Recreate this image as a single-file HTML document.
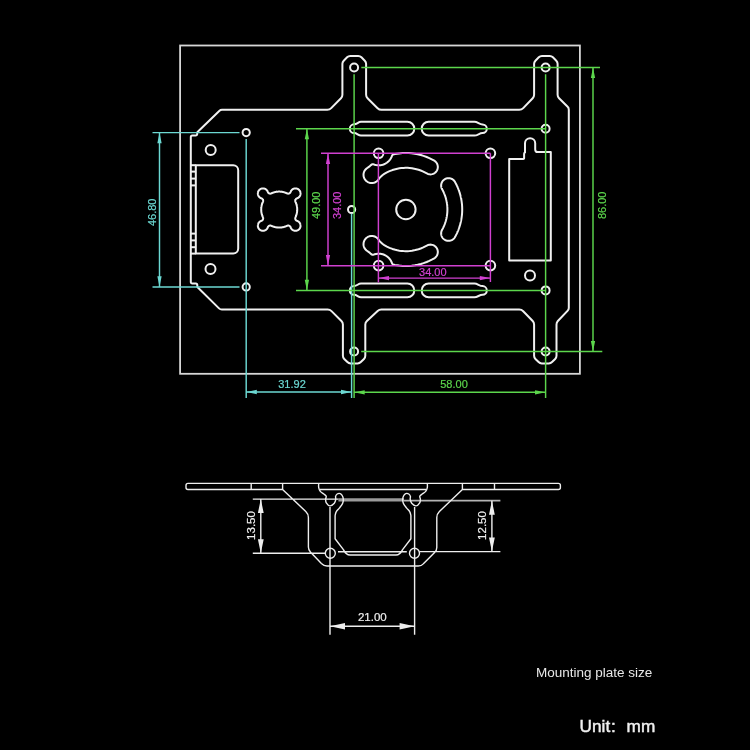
<!DOCTYPE html>
<html><head><meta charset="utf-8"><style>
html,body{margin:0;padding:0;background:#000;width:750px;height:750px;overflow:hidden}
svg{display:block;will-change:transform;filter:blur(0.3px)}
text{font-family:"Liberation Sans",sans-serif}
.dt{stroke-width:0.2}
</style></head><body>
<svg width="750" height="750" viewBox="0 0 750 750">
<rect width="750" height="750" fill="#000"/>
<g fill="none" stroke="#d6d6d6" stroke-width="1.8"><rect x="180.1" y="45.5" width="399.8" height="328.3"/></g>

<g fill="none" stroke="#f0f0f0" stroke-width="2" stroke-linejoin="round">
<path d="M219.24,110.92A4,4 0 0 1 222.02,109.8L327.3,109.8A5.5,5.5 0 0 0 331.22,108.16L340.96,98.26A5,5 0 0 0 342.4,94.75L342.4,63.86A4.5,4.5 0 0 1 343.72,60.68L347.08,57.32A4.5,4.5 0 0 1 350.26,56L358.24,56A4.5,4.5 0 0 1 361.42,57.32L364.78,60.68A4.5,4.5 0 0 1 366.1,63.86L366.1,94.72A5,5 0 0 0 367.58,98.27L377.59,108.2A5.5,5.5 0 0 0 381.47,109.8L519.26,109.8A5.5,5.5 0 0 0 523.22,108.11L532.7,98.25A5,5 0 0 0 534.1,94.79L534.1,63.86A4.5,4.5 0 0 1 535.42,60.68L538.78,57.32A4.5,4.5 0 0 1 541.96,56L549.74,56A4.5,4.5 0 0 1 552.92,57.32L556.28,60.68A4.5,4.5 0 0 1 557.6,63.86L557.6,94.73A5,5 0 0 0 559.06,98.26L567.63,106.83A4,4 0 0 1 568.8,109.66L568.8,307.91A4,4 0 0 1 567.71,310.66L557.87,321.05A5,5 0 0 0 556.5,324.49L556.5,355.74A4.5,4.5 0 0 1 555.18,358.92L552.02,362.08A4.5,4.5 0 0 1 548.84,363.4L541.76,363.4A4.5,4.5 0 0 1 538.58,362.08L535.42,358.92A4.5,4.5 0 0 1 534.1,355.74L534.1,324.51A5,5 0 0 0 532.7,321.05L523.22,311.19A5.5,5.5 0 0 0 519.26,309.5L381.36,309.5A5.5,5.5 0 0 0 377.62,310.97L366.9,320.92A5,5 0 0 0 365.3,324.58L365.3,355.74A4.5,4.5 0 0 1 363.98,358.92L360.82,362.08A4.5,4.5 0 0 1 357.64,363.4L350.56,363.4A4.5,4.5 0 0 1 347.38,362.08L344.22,358.92A4.5,4.5 0 0 1 342.9,355.74L342.9,324.48A5,5 0 0 0 341.42,320.93L331.51,311.1A5.5,5.5 0 0 0 327.63,309.5L221.84,309.5A4,4 0 0 1 219.03,308.35L197.6,287.29A1,1 0 0 1 197.3,286.58L197.3,285.1A1.5,1.5 0 0 0 195.8,283.6L192.3,283.6A1.5,1.5 0 0 1 190.8,282.1L190.8,137.1A1.5,1.5 0 0 1 192.3,135.6L195.7,135.6A1.5,1.5 0 0 0 197.2,134.1L197.2,132.62A1,1 0 0 1 197.51,131.91Z"/><path d="M195.8,165.2L233.2,165.2A5,5 0 0 1 238.2,170.2L238.2,248.6A5,5 0 0 1 233.2,253.6L195.8,253.6Z"/><path d="M190.8,165.2H195.8"/><path d="M190.8,171.6H195.8"/><path d="M190.8,178.6H195.8"/><path d="M190.8,185.4H195.8"/><path d="M190.8,233.6H195.8"/><path d="M190.8,240.4H195.8"/><path d="M190.8,247.2H195.8"/><path d="M190.8,253.6H195.8"/><circle cx="246.2" cy="132.6" r="3.6"/><circle cx="246.2" cy="286.9" r="3.6"/><circle cx="210.7" cy="150" r="5"/><circle cx="210.5" cy="269.1" r="5"/><circle cx="354.1" cy="67.5" r="4"/><circle cx="545.6" cy="67.5" r="4"/><circle cx="354.1" cy="351.5" r="4"/><circle cx="545.6" cy="351.5" r="4"/><circle cx="545.6" cy="128.7" r="4"/><circle cx="545.6" cy="290.4" r="4"/><circle cx="351.6" cy="209.5" r="3.6"/><circle cx="378.6" cy="153.3" r="4.8"/><circle cx="490.4" cy="153.3" r="4.8"/><circle cx="378.6" cy="265.6" r="4.8"/><circle cx="490.4" cy="265.6" r="4.8"/><circle cx="530" cy="275.6" r="5"/><circle cx="405.9" cy="209.5" r="9.7"/><path d="M261.38,198.35 L261.44,198.37 L261.5,198.4 L261.56,198.42 L261.62,198.44 L261.68,198.47 L261.73,198.5 L261.79,198.53 L261.84,198.56 L261.9,198.59 L261.95,198.62 L262.01,198.66 L262.06,198.69 L262.11,198.73 L262.16,198.77 L262.21,198.81 L262.26,198.85 L262.31,198.89 L262.35,198.94 L262.4,198.98 L262.44,199.02 L262.49,199.07 L262.53,199.12 L262.57,199.17 L262.61,199.22 L262.65,199.27 L262.69,199.32 L262.72,199.37 L262.76,199.42 L262.79,199.48 L262.82,199.53 L262.85,199.59 L262.88,199.65 L262.91,199.7 L262.94,199.76 L262.96,199.82 L262.99,199.88 L263.01,199.94 L263.03,200 L263.05,200.06 L263.07,200.12 L263.08,200.18 L263.1,200.24 L263.11,200.3 L263.12,200.37 L263.13,200.43 L263.14,200.49 L263.15,200.56 L263.16,200.62 L263.16,200.68 L263.16,200.75 L263.16,200.81 L263.16,200.87 L263.16,200.94 L263.16,201 L263.15,201.06 L263.15,201.13 L263.14,201.19 L263.13,201.25 L263.12,201.31 L263.1,201.38 L263.09,201.44 L263.07,201.5 L263.06,201.56 L263.04,201.62 L263.02,201.68 L263,201.74 L262.97,201.8 L262.95,201.86 L262.92,201.92 L262.84,202.1 L262.83,202.11 L262.75,202.3 L262.74,202.31 L262.66,202.5 L262.65,202.52 L262.57,202.7 L262.57,202.72 L262.49,202.91 L262.48,202.92 L262.41,203.11 L262.4,203.13 L262.33,203.32 L262.33,203.34 L262.25,203.53 L262.25,203.54 L262.18,203.74 L262.18,203.75 L262.11,203.95 L262.11,203.96 L262.04,204.16 L262.04,204.17 L261.98,204.37 L261.97,204.38 L261.91,204.58 L261.91,204.59 L261.85,204.79 L261.85,204.81 L261.8,205 L261.79,205.02 L261.74,205.22 L261.74,205.23 L261.69,205.43 L261.69,205.45 L261.64,205.65 L261.64,205.66 L261.59,205.86 L261.59,205.88 L261.55,206.08 L261.54,206.1 L261.51,206.3 L261.5,206.31 L261.47,206.51 L261.46,206.53 L261.43,206.73 L261.43,206.75 L261.4,206.95 L261.39,206.97 L261.36,207.17 L261.36,207.19 L261.34,207.39 L261.33,207.4 L261.31,207.61 L261.31,207.62 L261.29,207.83 L261.29,207.84 L261.27,208.05 L261.27,208.06 L261.25,208.27 L261.25,208.28 L261.23,208.49 L261.23,208.5 L261.22,208.71 L261.22,208.72 L261.21,208.93 L261.21,208.95 L261.21,209.15 L261.21,209.17 L261.2,209.37 L261.2,209.39 L261.2,209.59 L261.2,209.61 L261.2,209.81 L261.2,209.83 L261.21,210.03 L261.21,210.05 L261.21,210.25 L261.21,210.27 L261.22,210.48 L261.22,210.49 L261.23,210.7 L261.23,210.71 L261.25,210.92 L261.25,210.93 L261.27,211.14 L261.27,211.15 L261.29,211.36 L261.29,211.37 L261.31,211.58 L261.31,211.59 L261.33,211.8 L261.34,211.81 L261.36,212.01 L261.36,212.03 L261.39,212.23 L261.4,212.25 L261.43,212.45 L261.43,212.47 L261.46,212.67 L261.47,212.69 L261.5,212.89 L261.51,212.9 L261.54,213.1 L261.55,213.12 L261.59,213.32 L261.59,213.34 L261.64,213.54 L261.64,213.55 L261.69,213.75 L261.69,213.77 L261.74,213.97 L261.74,213.98 L261.79,214.18 L261.8,214.2 L261.85,214.39 L261.85,214.41 L261.91,214.61 L261.91,214.62 L261.97,214.82 L261.98,214.83 L262.04,215.03 L262.04,215.04 L262.11,215.24 L262.11,215.25 L262.18,215.45 L262.18,215.46 L262.25,215.66 L262.25,215.67 L262.33,215.86 L262.33,215.88 L262.4,216.07 L262.41,216.09 L262.48,216.28 L262.49,216.29 L262.57,216.48 L262.57,216.5 L262.65,216.68 L262.66,216.7 L262.74,216.89 L262.75,216.9 L262.83,217.09 L262.84,217.1 L262.92,217.28 L262.95,217.34 L262.97,217.4 L263,217.46 L263.02,217.52 L263.04,217.58 L263.06,217.64 L263.07,217.7 L263.09,217.76 L263.1,217.82 L263.12,217.89 L263.13,217.95 L263.14,218.01 L263.15,218.07 L263.15,218.14 L263.16,218.2 L263.16,218.26 L263.16,218.33 L263.16,218.39 L263.16,218.45 L263.16,218.52 L263.16,218.58 L263.15,218.64 L263.14,218.71 L263.13,218.77 L263.12,218.83 L263.11,218.9 L263.1,218.96 L263.08,219.02 L263.07,219.08 L263.05,219.14 L263.03,219.2 L263.01,219.26 L262.99,219.32 L262.96,219.38 L262.94,219.44 L262.91,219.5 L262.88,219.55 L262.85,219.61 L262.82,219.67 L262.79,219.72 L262.76,219.78 L262.72,219.83 L262.69,219.88 L262.65,219.93 L262.61,219.98 L262.57,220.03 L262.53,220.08 L262.49,220.13 L262.44,220.18 L262.4,220.22 L262.35,220.26 L262.31,220.31 L262.26,220.35 L262.21,220.39 L262.16,220.43 L262.11,220.47 L262.06,220.51 L262.01,220.54 L261.95,220.58 L261.9,220.61 L261.84,220.64 L261.79,220.67 L261.73,220.7 L261.68,220.73 L261.62,220.76 L261.56,220.78 L261.5,220.8 L261.44,220.83 L261.38,220.85 L261.34,220.86 L261.25,220.89 L261.22,220.9 L261.13,220.94 L261.1,220.95 L261.01,220.98 L260.98,220.99 L260.9,221.03 L260.87,221.04 L260.78,221.08 L260.76,221.1 L260.67,221.14 L260.64,221.15 L260.56,221.19 L260.53,221.21 L260.45,221.25 L260.42,221.27 L260.34,221.32 L260.31,221.33 L260.24,221.38 L260.21,221.4 L260.13,221.45 L260.1,221.47 L260.03,221.52 L260,221.54 L259.92,221.59 L259.9,221.61 L259.83,221.67 L259.8,221.69 L259.73,221.75 L259.7,221.77 L259.63,221.83 L259.61,221.85 L259.54,221.91 L259.51,221.93 L259.45,222 L259.42,222.02 L259.36,222.08 L259.33,222.11 L259.27,222.17 L259.25,222.2 L259.18,222.26 L259.16,222.29 L259.1,222.36 L259.08,222.38 L259.02,222.45 L259,222.48 L258.94,222.55 L258.92,222.58 L258.86,222.65 L258.84,222.67 L258.79,222.75 L258.77,222.78 L258.72,222.85 L258.7,222.88 L258.65,222.96 L258.63,222.99 L258.58,223.06 L258.57,223.09 L258.52,223.17 L258.5,223.2 L258.46,223.28 L258.44,223.31 L258.4,223.39 L258.39,223.42 L258.35,223.51 L258.33,223.53 L258.29,223.62 L258.28,223.65 L258.24,223.73 L258.23,223.76 L258.2,223.85 L258.19,223.88 L258.15,223.97 L258.14,224 L258.11,224.09 L258.1,224.12 L258.07,224.2 L258.07,224.23 L258.04,224.32 L258.03,224.36 L258.01,224.45 L258,224.48 L257.98,224.57 L257.97,224.6 L257.95,224.69 L257.95,224.72 L257.93,224.81 L257.92,224.84 L257.91,224.94 L257.9,224.97 L257.89,225.06 L257.89,225.09 L257.88,225.18 L257.87,225.22 L257.87,225.31 L257.86,225.34 L257.86,225.43 L257.86,225.47 L257.85,225.56 L257.85,225.59 L257.85,225.68 L257.85,225.72 L257.85,225.81 L257.85,225.84 L257.86,225.93 L257.86,225.97 L257.86,226.06 L257.87,226.09 L257.87,226.18 L257.88,226.22 L257.89,226.31 L257.89,226.34 L257.9,226.43 L257.91,226.46 L257.92,226.56 L257.93,226.59 L257.95,226.68 L257.95,226.71 L257.97,226.8 L257.98,226.83 L258,226.92 L258.01,226.95 L258.03,227.04 L258.04,227.08 L258.07,227.17 L258.07,227.2 L258.1,227.28 L258.11,227.31 L258.14,227.4 L258.15,227.43 L258.19,227.52 L258.2,227.55 L258.23,227.64 L258.24,227.67 L258.28,227.75 L258.29,227.78 L258.33,227.87 L258.35,227.89 L258.39,227.98 L258.4,228.01 L258.44,228.09 L258.46,228.12 L258.5,228.2 L258.52,228.23 L258.57,228.31 L258.58,228.34 L258.63,228.41 L258.65,228.44 L258.7,228.52 L258.72,228.55 L258.77,228.62 L258.79,228.65 L258.84,228.73 L258.86,228.75 L258.92,228.82 L258.94,228.85 L259,228.92 L259.02,228.95 L259.08,229.02 L259.1,229.04 L259.16,229.11 L259.18,229.14 L259.25,229.2 L259.27,229.23 L259.33,229.29 L259.36,229.32 L259.42,229.38 L259.45,229.4 L259.51,229.47 L259.54,229.49 L259.61,229.55 L259.63,229.57 L259.7,229.63 L259.73,229.65 L259.8,229.71 L259.83,229.73 L259.9,229.79 L259.92,229.81 L260,229.86 L260.03,229.88 L260.1,229.93 L260.13,229.95 L260.21,230 L260.24,230.02 L260.31,230.07 L260.34,230.08 L260.42,230.13 L260.45,230.15 L260.53,230.19 L260.56,230.21 L260.64,230.25 L260.67,230.26 L260.76,230.3 L260.78,230.32 L260.87,230.36 L260.9,230.37 L260.98,230.41 L261.01,230.42 L261.1,230.45 L261.13,230.46 L261.22,230.5 L261.25,230.51 L261.34,230.54 L261.37,230.55 L261.45,230.58 L261.48,230.58 L261.57,230.61 L261.61,230.62 L261.7,230.64 L261.73,230.65 L261.82,230.67 L261.85,230.68 L261.94,230.7 L261.97,230.7 L262.06,230.72 L262.09,230.73 L262.19,230.74 L262.22,230.75 L262.31,230.76 L262.34,230.76 L262.43,230.77 L262.47,230.78 L262.56,230.78 L262.59,230.79 L262.68,230.79 L262.72,230.79 L262.81,230.8 L262.84,230.8 L262.93,230.8 L262.97,230.8 L263.06,230.8 L263.09,230.8 L263.18,230.79 L263.22,230.79 L263.31,230.79 L263.34,230.78 L263.43,230.78 L263.47,230.77 L263.56,230.76 L263.59,230.76 L263.68,230.75 L263.71,230.74 L263.81,230.73 L263.84,230.72 L263.93,230.7 L263.96,230.7 L264.05,230.68 L264.08,230.67 L264.17,230.65 L264.2,230.64 L264.29,230.62 L264.33,230.61 L264.42,230.58 L264.45,230.58 L264.53,230.55 L264.56,230.54 L264.65,230.51 L264.68,230.5 L264.77,230.46 L264.8,230.45 L264.89,230.42 L264.92,230.41 L265,230.37 L265.03,230.36 L265.12,230.32 L265.14,230.3 L265.23,230.26 L265.26,230.25 L265.34,230.21 L265.37,230.19 L265.45,230.15 L265.48,230.13 L265.56,230.08 L265.59,230.07 L265.66,230.02 L265.69,230 L265.77,229.95 L265.8,229.93 L265.87,229.88 L265.9,229.86 L265.98,229.81 L266,229.79 L266.07,229.73 L266.1,229.71 L266.17,229.65 L266.2,229.63 L266.27,229.57 L266.29,229.55 L266.36,229.49 L266.39,229.47 L266.45,229.4 L266.48,229.38 L266.54,229.32 L266.57,229.29 L266.63,229.23 L266.65,229.2 L266.72,229.14 L266.74,229.11 L266.8,229.04 L266.82,229.02 L266.88,228.95 L266.9,228.92 L266.96,228.85 L266.98,228.82 L267.04,228.75 L267.06,228.73 L267.11,228.65 L267.13,228.62 L267.18,228.55 L267.2,228.52 L267.25,228.44 L267.27,228.41 L267.32,228.34 L267.33,228.31 L267.38,228.23 L267.4,228.2 L267.44,228.12 L267.46,228.09 L267.5,228.01 L267.51,227.98 L267.55,227.89 L267.57,227.87 L267.61,227.78 L267.62,227.75 L267.66,227.67 L267.67,227.64 L267.7,227.55 L267.71,227.52 L267.75,227.43 L267.76,227.4 L267.79,227.31 L267.81,227.25 L267.83,227.19 L267.86,227.13 L267.88,227.07 L267.91,227.01 L267.94,226.96 L267.97,226.9 L268,226.85 L268.03,226.79 L268.07,226.74 L268.1,226.68 L268.14,226.63 L268.18,226.58 L268.22,226.53 L268.26,226.48 L268.3,226.43 L268.34,226.39 L268.38,226.34 L268.43,226.3 L268.48,226.25 L268.52,226.21 L268.57,226.17 L268.62,226.13 L268.67,226.09 L268.72,226.05 L268.77,226.01 L268.83,225.98 L268.88,225.94 L268.93,225.91 L268.99,225.88 L269.04,225.85 L269.1,225.82 L269.16,225.79 L269.22,225.77 L269.28,225.74 L269.33,225.72 L269.39,225.7 L269.45,225.68 L269.52,225.66 L269.58,225.64 L269.64,225.63 L269.7,225.61 L269.76,225.6 L269.83,225.59 L269.89,225.58 L269.95,225.57 L270.01,225.56 L270.08,225.56 L270.14,225.56 L270.21,225.55 L270.27,225.55 L270.33,225.55 L270.4,225.56 L270.46,225.56 L270.52,225.57 L270.59,225.58 L270.65,225.58 L270.71,225.59 L270.77,225.61 L270.84,225.62 L270.9,225.64 L270.96,225.65 L271.02,225.67 L271.08,225.69 L271.14,225.71 L271.2,225.73 L271.26,225.76 L271.32,225.78 L271.37,225.81 L271.5,225.87 L271.51,225.88 L271.7,225.96 L271.71,225.97 L271.9,226.05 L271.91,226.06 L272.1,226.14 L272.12,226.15 L272.3,226.23 L272.32,226.23 L272.51,226.31 L272.52,226.32 L272.71,226.39 L272.73,226.4 L272.92,226.47 L272.94,226.47 L273.13,226.55 L273.14,226.55 L273.34,226.62 L273.35,226.62 L273.55,226.69 L273.56,226.69 L273.76,226.76 L273.77,226.76 L273.97,226.82 L273.98,226.83 L274.18,226.89 L274.19,226.89 L274.39,226.95 L274.41,226.95 L274.6,227 L274.62,227.01 L274.82,227.06 L274.83,227.06 L275.03,227.11 L275.05,227.11 L275.25,227.16 L275.26,227.16 L275.46,227.21 L275.48,227.21 L275.68,227.25 L275.7,227.26 L275.9,227.29 L275.91,227.3 L276.11,227.33 L276.13,227.34 L276.33,227.37 L276.35,227.37 L276.55,227.4 L276.57,227.41 L276.77,227.44 L276.79,227.44 L276.99,227.46 L277,227.47 L277.21,227.49 L277.22,227.49 L277.43,227.51 L277.44,227.51 L277.65,227.53 L277.66,227.53 L277.87,227.55 L277.88,227.55 L278.09,227.57 L278.1,227.57 L278.31,227.58 L278.32,227.58 L278.53,227.59 L278.55,227.59 L278.75,227.59 L278.77,227.59 L278.97,227.6 L278.99,227.6 L279.19,227.6 L279.21,227.6 L279.41,227.6 L279.43,227.6 L279.63,227.59 L279.65,227.59 L279.85,227.59 L279.87,227.59 L280.08,227.58 L280.09,227.58 L280.3,227.57 L280.31,227.57 L280.52,227.55 L280.53,227.55 L280.74,227.53 L280.75,227.53 L280.96,227.51 L280.97,227.51 L281.18,227.49 L281.19,227.49 L281.4,227.47 L281.41,227.46 L281.61,227.44 L281.63,227.44 L281.83,227.41 L281.85,227.4 L282.05,227.37 L282.07,227.37 L282.27,227.34 L282.29,227.33 L282.49,227.3 L282.5,227.29 L282.7,227.26 L282.72,227.25 L282.92,227.21 L282.94,227.21 L283.14,227.16 L283.15,227.16 L283.35,227.11 L283.37,227.11 L283.57,227.06 L283.58,227.06 L283.78,227.01 L283.8,227 L283.99,226.95 L284.01,226.95 L284.21,226.89 L284.22,226.89 L284.42,226.83 L284.43,226.82 L284.63,226.76 L284.64,226.76 L284.84,226.69 L284.85,226.69 L285.05,226.62 L285.06,226.62 L285.26,226.55 L285.27,226.55 L285.46,226.47 L285.48,226.47 L285.67,226.4 L285.69,226.39 L285.88,226.32 L285.89,226.31 L286.08,226.23 L286.1,226.23 L286.28,226.15 L286.3,226.14 L286.49,226.06 L286.5,226.05 L286.69,225.97 L286.7,225.96 L286.89,225.88 L286.9,225.87 L287.03,225.81 L287.08,225.78 L287.14,225.76 L287.2,225.73 L287.26,225.71 L287.32,225.69 L287.38,225.67 L287.44,225.65 L287.5,225.64 L287.56,225.62 L287.63,225.61 L287.69,225.59 L287.75,225.58 L287.81,225.58 L287.88,225.57 L287.94,225.56 L288,225.56 L288.07,225.55 L288.13,225.55 L288.19,225.55 L288.26,225.56 L288.32,225.56 L288.39,225.56 L288.45,225.57 L288.51,225.58 L288.57,225.59 L288.64,225.6 L288.7,225.61 L288.76,225.63 L288.82,225.64 L288.88,225.66 L288.95,225.68 L289.01,225.7 L289.07,225.72 L289.12,225.74 L289.18,225.77 L289.24,225.79 L289.3,225.82 L289.36,225.85 L289.41,225.88 L289.47,225.91 L289.52,225.94 L289.57,225.98 L289.63,226.01 L289.68,226.05 L289.73,226.09 L289.78,226.13 L289.83,226.17 L289.88,226.21 L289.92,226.25 L289.97,226.3 L290.02,226.34 L290.06,226.39 L290.1,226.43 L290.14,226.48 L290.18,226.53 L290.22,226.58 L290.26,226.63 L290.3,226.68 L290.33,226.74 L290.37,226.79 L290.4,226.85 L290.43,226.9 L290.46,226.96 L290.49,227.01 L290.52,227.07 L290.54,227.13 L290.57,227.19 L290.59,227.25 L290.61,227.31 L290.64,227.4 L290.65,227.43 L290.69,227.52 L290.7,227.55 L290.73,227.64 L290.74,227.67 L290.78,227.75 L290.79,227.78 L290.83,227.87 L290.85,227.89 L290.89,227.98 L290.9,228.01 L290.94,228.09 L290.96,228.12 L291,228.2 L291.02,228.23 L291.07,228.31 L291.08,228.34 L291.13,228.41 L291.15,228.44 L291.2,228.52 L291.22,228.55 L291.27,228.62 L291.29,228.65 L291.34,228.73 L291.36,228.75 L291.42,228.82 L291.44,228.85 L291.5,228.92 L291.52,228.95 L291.58,229.02 L291.6,229.04 L291.66,229.11 L291.68,229.14 L291.75,229.2 L291.77,229.23 L291.83,229.29 L291.86,229.32 L291.92,229.38 L291.95,229.4 L292.01,229.47 L292.04,229.49 L292.11,229.55 L292.13,229.57 L292.2,229.63 L292.23,229.65 L292.3,229.71 L292.33,229.73 L292.4,229.79 L292.42,229.81 L292.5,229.86 L292.53,229.88 L292.6,229.93 L292.63,229.95 L292.71,230 L292.74,230.02 L292.81,230.07 L292.84,230.08 L292.92,230.13 L292.95,230.15 L293.03,230.19 L293.06,230.21 L293.14,230.25 L293.17,230.26 L293.26,230.3 L293.28,230.32 L293.37,230.36 L293.4,230.37 L293.48,230.41 L293.51,230.42 L293.6,230.45 L293.63,230.46 L293.72,230.5 L293.75,230.51 L293.84,230.54 L293.87,230.55 L293.95,230.58 L293.98,230.58 L294.07,230.61 L294.11,230.62 L294.2,230.64 L294.23,230.65 L294.32,230.67 L294.35,230.68 L294.44,230.7 L294.47,230.7 L294.56,230.72 L294.59,230.73 L294.69,230.74 L294.72,230.75 L294.81,230.76 L294.84,230.76 L294.93,230.77 L294.97,230.78 L295.06,230.78 L295.09,230.79 L295.18,230.79 L295.22,230.79 L295.31,230.8 L295.34,230.8 L295.43,230.8 L295.47,230.8 L295.56,230.8 L295.59,230.8 L295.68,230.79 L295.72,230.79 L295.81,230.79 L295.84,230.78 L295.93,230.78 L295.97,230.77 L296.06,230.76 L296.09,230.76 L296.18,230.75 L296.21,230.74 L296.31,230.73 L296.34,230.72 L296.43,230.7 L296.46,230.7 L296.55,230.68 L296.58,230.67 L296.67,230.65 L296.7,230.64 L296.79,230.62 L296.83,230.61 L296.92,230.58 L296.95,230.58 L297.03,230.55 L297.06,230.54 L297.15,230.51 L297.18,230.5 L297.27,230.46 L297.3,230.45 L297.39,230.42 L297.42,230.41 L297.5,230.37 L297.53,230.36 L297.62,230.32 L297.64,230.3 L297.73,230.26 L297.76,230.25 L297.84,230.21 L297.87,230.19 L297.95,230.15 L297.98,230.13 L298.06,230.08 L298.09,230.07 L298.16,230.02 L298.19,230 L298.27,229.95 L298.3,229.93 L298.37,229.88 L298.4,229.86 L298.48,229.81 L298.5,229.79 L298.57,229.73 L298.6,229.71 L298.67,229.65 L298.7,229.63 L298.77,229.57 L298.79,229.55 L298.86,229.49 L298.89,229.47 L298.95,229.4 L298.98,229.38 L299.04,229.32 L299.07,229.29 L299.13,229.23 L299.15,229.2 L299.22,229.14 L299.24,229.11 L299.3,229.04 L299.32,229.02 L299.38,228.95 L299.4,228.92 L299.46,228.85 L299.48,228.82 L299.54,228.75 L299.56,228.73 L299.61,228.65 L299.63,228.62 L299.68,228.55 L299.7,228.52 L299.75,228.44 L299.77,228.41 L299.82,228.34 L299.83,228.31 L299.88,228.23 L299.9,228.2 L299.94,228.12 L299.96,228.09 L300,228.01 L300.01,227.98 L300.05,227.89 L300.07,227.87 L300.11,227.78 L300.12,227.75 L300.16,227.67 L300.17,227.64 L300.2,227.55 L300.21,227.52 L300.25,227.43 L300.26,227.4 L300.29,227.31 L300.3,227.28 L300.33,227.2 L300.33,227.17 L300.36,227.08 L300.37,227.04 L300.39,226.95 L300.4,226.92 L300.42,226.83 L300.43,226.8 L300.45,226.71 L300.45,226.68 L300.47,226.59 L300.48,226.56 L300.49,226.46 L300.5,226.43 L300.51,226.34 L300.51,226.31 L300.52,226.22 L300.53,226.18 L300.53,226.09 L300.54,226.06 L300.54,225.97 L300.54,225.93 L300.55,225.84 L300.55,225.81 L300.55,225.72 L300.55,225.68 L300.55,225.59 L300.55,225.56 L300.54,225.47 L300.54,225.43 L300.54,225.34 L300.53,225.31 L300.53,225.22 L300.52,225.18 L300.51,225.09 L300.51,225.06 L300.5,224.97 L300.49,224.94 L300.48,224.84 L300.47,224.81 L300.45,224.72 L300.45,224.69 L300.43,224.6 L300.42,224.57 L300.4,224.48 L300.39,224.45 L300.37,224.36 L300.36,224.32 L300.33,224.23 L300.33,224.2 L300.3,224.12 L300.29,224.09 L300.26,224 L300.25,223.97 L300.21,223.88 L300.2,223.85 L300.17,223.76 L300.16,223.73 L300.12,223.65 L300.11,223.62 L300.07,223.53 L300.05,223.51 L300.01,223.42 L300,223.39 L299.96,223.31 L299.94,223.28 L299.9,223.2 L299.88,223.17 L299.83,223.09 L299.82,223.06 L299.77,222.99 L299.75,222.96 L299.7,222.88 L299.68,222.85 L299.63,222.78 L299.61,222.75 L299.56,222.67 L299.54,222.65 L299.48,222.58 L299.46,222.55 L299.4,222.48 L299.38,222.45 L299.32,222.38 L299.3,222.36 L299.24,222.29 L299.22,222.26 L299.15,222.2 L299.13,222.17 L299.07,222.11 L299.04,222.08 L298.98,222.02 L298.95,222 L298.89,221.93 L298.86,221.91 L298.79,221.85 L298.77,221.83 L298.7,221.77 L298.67,221.75 L298.6,221.69 L298.57,221.67 L298.5,221.61 L298.48,221.59 L298.4,221.54 L298.37,221.52 L298.3,221.47 L298.27,221.45 L298.19,221.4 L298.16,221.38 L298.09,221.33 L298.06,221.32 L297.98,221.27 L297.95,221.25 L297.87,221.21 L297.84,221.19 L297.76,221.15 L297.73,221.14 L297.64,221.1 L297.62,221.08 L297.53,221.04 L297.5,221.03 L297.42,220.99 L297.39,220.98 L297.3,220.95 L297.27,220.94 L297.18,220.9 L297.15,220.89 L297.06,220.86 L297.02,220.85 L296.96,220.83 L296.9,220.8 L296.84,220.78 L296.78,220.76 L296.72,220.73 L296.67,220.7 L296.61,220.67 L296.56,220.64 L296.5,220.61 L296.45,220.58 L296.39,220.54 L296.34,220.51 L296.29,220.47 L296.24,220.43 L296.19,220.39 L296.14,220.35 L296.09,220.31 L296.05,220.26 L296,220.22 L295.96,220.18 L295.91,220.13 L295.87,220.08 L295.83,220.03 L295.79,219.98 L295.75,219.93 L295.71,219.88 L295.68,219.83 L295.64,219.78 L295.61,219.72 L295.58,219.67 L295.55,219.61 L295.52,219.55 L295.49,219.5 L295.46,219.44 L295.44,219.38 L295.41,219.32 L295.39,219.26 L295.37,219.2 L295.35,219.14 L295.33,219.08 L295.32,219.02 L295.3,218.96 L295.29,218.9 L295.28,218.83 L295.27,218.77 L295.26,218.71 L295.25,218.64 L295.24,218.58 L295.24,218.52 L295.24,218.45 L295.24,218.39 L295.24,218.33 L295.24,218.26 L295.24,218.2 L295.25,218.14 L295.25,218.07 L295.26,218.01 L295.27,217.95 L295.28,217.89 L295.3,217.82 L295.31,217.76 L295.33,217.7 L295.34,217.64 L295.36,217.58 L295.38,217.52 L295.4,217.46 L295.43,217.4 L295.45,217.34 L295.48,217.28 L295.56,217.1 L295.57,217.09 L295.65,216.9 L295.66,216.89 L295.74,216.7 L295.75,216.68 L295.83,216.5 L295.83,216.48 L295.91,216.29 L295.92,216.28 L295.99,216.09 L296,216.07 L296.07,215.88 L296.07,215.86 L296.15,215.67 L296.15,215.66 L296.22,215.46 L296.22,215.45 L296.29,215.25 L296.29,215.24 L296.36,215.04 L296.36,215.03 L296.42,214.83 L296.43,214.82 L296.49,214.62 L296.49,214.61 L296.55,214.41 L296.55,214.39 L296.6,214.2 L296.61,214.18 L296.66,213.98 L296.66,213.97 L296.71,213.77 L296.71,213.75 L296.76,213.55 L296.76,213.54 L296.81,213.34 L296.81,213.32 L296.85,213.12 L296.86,213.1 L296.89,212.9 L296.9,212.89 L296.93,212.69 L296.94,212.67 L296.97,212.47 L296.97,212.45 L297,212.25 L297.01,212.23 L297.04,212.03 L297.04,212.01 L297.06,211.81 L297.07,211.8 L297.09,211.59 L297.09,211.58 L297.11,211.37 L297.11,211.36 L297.13,211.15 L297.13,211.14 L297.15,210.93 L297.15,210.92 L297.17,210.71 L297.17,210.7 L297.18,210.49 L297.18,210.48 L297.19,210.27 L297.19,210.25 L297.19,210.05 L297.19,210.03 L297.2,209.83 L297.2,209.81 L297.2,209.61 L297.2,209.59 L297.2,209.39 L297.2,209.37 L297.19,209.17 L297.19,209.15 L297.19,208.95 L297.19,208.93 L297.18,208.72 L297.18,208.71 L297.17,208.5 L297.17,208.49 L297.15,208.28 L297.15,208.27 L297.13,208.06 L297.13,208.05 L297.11,207.84 L297.11,207.83 L297.09,207.62 L297.09,207.61 L297.07,207.4 L297.06,207.39 L297.04,207.19 L297.04,207.17 L297.01,206.97 L297,206.95 L296.97,206.75 L296.97,206.73 L296.94,206.53 L296.93,206.51 L296.9,206.31 L296.89,206.3 L296.86,206.1 L296.85,206.08 L296.81,205.88 L296.81,205.86 L296.76,205.66 L296.76,205.65 L296.71,205.45 L296.71,205.43 L296.66,205.23 L296.66,205.22 L296.61,205.02 L296.6,205 L296.55,204.81 L296.55,204.79 L296.49,204.59 L296.49,204.58 L296.43,204.38 L296.42,204.37 L296.36,204.17 L296.36,204.16 L296.29,203.96 L296.29,203.95 L296.22,203.75 L296.22,203.74 L296.15,203.54 L296.15,203.53 L296.07,203.34 L296.07,203.32 L296,203.13 L295.99,203.11 L295.92,202.92 L295.91,202.91 L295.83,202.72 L295.83,202.7 L295.75,202.52 L295.74,202.5 L295.66,202.31 L295.65,202.3 L295.57,202.11 L295.56,202.1 L295.48,201.92 L295.45,201.86 L295.43,201.8 L295.4,201.74 L295.38,201.68 L295.36,201.62 L295.34,201.56 L295.33,201.5 L295.31,201.44 L295.3,201.38 L295.28,201.31 L295.27,201.25 L295.26,201.19 L295.25,201.13 L295.25,201.06 L295.24,201 L295.24,200.94 L295.24,200.87 L295.24,200.81 L295.24,200.75 L295.24,200.68 L295.24,200.62 L295.25,200.56 L295.26,200.49 L295.27,200.43 L295.28,200.37 L295.29,200.3 L295.3,200.24 L295.32,200.18 L295.33,200.12 L295.35,200.06 L295.37,200 L295.39,199.94 L295.41,199.88 L295.44,199.82 L295.46,199.76 L295.49,199.7 L295.52,199.65 L295.55,199.59 L295.58,199.53 L295.61,199.48 L295.64,199.42 L295.68,199.37 L295.71,199.32 L295.75,199.27 L295.79,199.22 L295.83,199.17 L295.87,199.12 L295.91,199.07 L295.96,199.02 L296,198.98 L296.05,198.94 L296.09,198.89 L296.14,198.85 L296.19,198.81 L296.24,198.77 L296.29,198.73 L296.34,198.69 L296.39,198.66 L296.45,198.62 L296.5,198.59 L296.56,198.56 L296.61,198.53 L296.67,198.5 L296.72,198.47 L296.78,198.44 L296.84,198.42 L296.9,198.4 L296.96,198.37 L297.02,198.35 L297.06,198.34 L297.15,198.31 L297.18,198.3 L297.27,198.26 L297.3,198.25 L297.39,198.22 L297.42,198.21 L297.5,198.17 L297.53,198.16 L297.62,198.12 L297.64,198.1 L297.73,198.06 L297.76,198.05 L297.84,198.01 L297.87,197.99 L297.95,197.95 L297.98,197.93 L298.06,197.88 L298.09,197.87 L298.16,197.82 L298.19,197.8 L298.27,197.75 L298.3,197.73 L298.37,197.68 L298.4,197.66 L298.48,197.61 L298.5,197.59 L298.57,197.53 L298.6,197.51 L298.67,197.45 L298.7,197.43 L298.77,197.37 L298.79,197.35 L298.86,197.29 L298.89,197.27 L298.95,197.2 L298.98,197.18 L299.04,197.12 L299.07,197.09 L299.13,197.03 L299.15,197 L299.22,196.94 L299.24,196.91 L299.3,196.84 L299.32,196.82 L299.38,196.75 L299.4,196.72 L299.46,196.65 L299.48,196.62 L299.54,196.55 L299.56,196.53 L299.61,196.45 L299.63,196.42 L299.68,196.35 L299.7,196.32 L299.75,196.24 L299.77,196.21 L299.82,196.14 L299.83,196.11 L299.88,196.03 L299.9,196 L299.94,195.92 L299.96,195.89 L300,195.81 L300.01,195.78 L300.05,195.69 L300.07,195.67 L300.11,195.58 L300.12,195.55 L300.16,195.47 L300.17,195.44 L300.2,195.35 L300.21,195.32 L300.25,195.23 L300.26,195.2 L300.29,195.11 L300.3,195.08 L300.33,195 L300.33,194.97 L300.36,194.88 L300.37,194.84 L300.39,194.75 L300.4,194.72 L300.42,194.63 L300.43,194.6 L300.45,194.51 L300.45,194.48 L300.47,194.39 L300.48,194.36 L300.49,194.26 L300.5,194.23 L300.51,194.14 L300.51,194.11 L300.52,194.02 L300.53,193.98 L300.53,193.89 L300.54,193.86 L300.54,193.77 L300.54,193.73 L300.55,193.64 L300.55,193.61 L300.55,193.52 L300.55,193.48 L300.55,193.39 L300.55,193.36 L300.54,193.27 L300.54,193.23 L300.54,193.14 L300.53,193.11 L300.53,193.02 L300.52,192.98 L300.51,192.89 L300.51,192.86 L300.5,192.77 L300.49,192.74 L300.48,192.64 L300.47,192.61 L300.45,192.52 L300.45,192.49 L300.43,192.4 L300.42,192.37 L300.4,192.28 L300.39,192.25 L300.37,192.16 L300.36,192.12 L300.33,192.03 L300.33,192 L300.3,191.92 L300.29,191.89 L300.26,191.8 L300.25,191.77 L300.21,191.68 L300.2,191.65 L300.17,191.56 L300.16,191.53 L300.12,191.45 L300.11,191.42 L300.07,191.33 L300.05,191.31 L300.01,191.22 L300,191.19 L299.96,191.11 L299.94,191.08 L299.9,191 L299.88,190.97 L299.83,190.89 L299.82,190.86 L299.77,190.79 L299.75,190.76 L299.7,190.68 L299.68,190.65 L299.63,190.58 L299.61,190.55 L299.56,190.47 L299.54,190.45 L299.48,190.38 L299.46,190.35 L299.4,190.28 L299.38,190.25 L299.32,190.18 L299.3,190.16 L299.24,190.09 L299.22,190.06 L299.15,190 L299.13,189.97 L299.07,189.91 L299.04,189.88 L298.98,189.82 L298.95,189.8 L298.89,189.73 L298.86,189.71 L298.79,189.65 L298.77,189.63 L298.7,189.57 L298.67,189.55 L298.6,189.49 L298.57,189.47 L298.5,189.41 L298.48,189.39 L298.4,189.34 L298.37,189.32 L298.3,189.27 L298.27,189.25 L298.19,189.2 L298.16,189.18 L298.09,189.13 L298.06,189.12 L297.98,189.07 L297.95,189.05 L297.87,189.01 L297.84,188.99 L297.76,188.95 L297.73,188.94 L297.64,188.9 L297.62,188.88 L297.53,188.84 L297.5,188.83 L297.42,188.79 L297.39,188.78 L297.3,188.75 L297.27,188.74 L297.18,188.7 L297.15,188.69 L297.06,188.66 L297.03,188.65 L296.95,188.62 L296.92,188.62 L296.83,188.59 L296.79,188.58 L296.7,188.56 L296.67,188.55 L296.58,188.53 L296.55,188.52 L296.46,188.5 L296.43,188.5 L296.34,188.48 L296.31,188.47 L296.21,188.46 L296.18,188.45 L296.09,188.44 L296.06,188.44 L295.97,188.43 L295.93,188.42 L295.84,188.42 L295.81,188.41 L295.72,188.41 L295.68,188.41 L295.59,188.4 L295.56,188.4 L295.47,188.4 L295.43,188.4 L295.34,188.4 L295.31,188.4 L295.22,188.41 L295.18,188.41 L295.09,188.41 L295.06,188.42 L294.97,188.42 L294.93,188.43 L294.84,188.44 L294.81,188.44 L294.72,188.45 L294.69,188.46 L294.59,188.47 L294.56,188.48 L294.47,188.5 L294.44,188.5 L294.35,188.52 L294.32,188.53 L294.23,188.55 L294.2,188.56 L294.11,188.58 L294.07,188.59 L293.98,188.62 L293.95,188.62 L293.87,188.65 L293.84,188.66 L293.75,188.69 L293.72,188.7 L293.63,188.74 L293.6,188.75 L293.51,188.78 L293.48,188.79 L293.4,188.83 L293.37,188.84 L293.28,188.88 L293.26,188.9 L293.17,188.94 L293.14,188.95 L293.06,188.99 L293.03,189.01 L292.95,189.05 L292.92,189.07 L292.84,189.12 L292.81,189.13 L292.74,189.18 L292.71,189.2 L292.63,189.25 L292.6,189.27 L292.53,189.32 L292.5,189.34 L292.42,189.39 L292.4,189.41 L292.33,189.47 L292.3,189.49 L292.23,189.55 L292.2,189.57 L292.13,189.63 L292.11,189.65 L292.04,189.71 L292.01,189.73 L291.95,189.8 L291.92,189.82 L291.86,189.88 L291.83,189.91 L291.77,189.97 L291.75,190 L291.68,190.06 L291.66,190.09 L291.6,190.16 L291.58,190.18 L291.52,190.25 L291.5,190.28 L291.44,190.35 L291.42,190.38 L291.36,190.45 L291.34,190.47 L291.29,190.55 L291.27,190.58 L291.22,190.65 L291.2,190.68 L291.15,190.76 L291.13,190.79 L291.08,190.86 L291.07,190.89 L291.02,190.97 L291,191 L290.96,191.08 L290.94,191.11 L290.9,191.19 L290.89,191.22 L290.85,191.31 L290.83,191.33 L290.79,191.42 L290.78,191.45 L290.74,191.53 L290.73,191.56 L290.7,191.65 L290.69,191.68 L290.65,191.77 L290.64,191.8 L290.61,191.89 L290.59,191.95 L290.57,192.01 L290.54,192.07 L290.52,192.13 L290.49,192.19 L290.46,192.24 L290.43,192.3 L290.4,192.35 L290.37,192.41 L290.33,192.46 L290.3,192.52 L290.26,192.57 L290.22,192.62 L290.18,192.67 L290.14,192.72 L290.1,192.77 L290.06,192.81 L290.02,192.86 L289.97,192.9 L289.92,192.95 L289.88,192.99 L289.83,193.03 L289.78,193.07 L289.73,193.11 L289.68,193.15 L289.63,193.19 L289.57,193.22 L289.52,193.26 L289.47,193.29 L289.41,193.32 L289.36,193.35 L289.3,193.38 L289.24,193.41 L289.18,193.43 L289.12,193.46 L289.07,193.48 L289.01,193.5 L288.95,193.52 L288.88,193.54 L288.82,193.56 L288.76,193.57 L288.7,193.59 L288.64,193.6 L288.57,193.61 L288.51,193.62 L288.45,193.63 L288.39,193.64 L288.32,193.64 L288.26,193.64 L288.19,193.65 L288.13,193.65 L288.07,193.65 L288,193.64 L287.94,193.64 L287.88,193.63 L287.81,193.62 L287.75,193.62 L287.69,193.61 L287.63,193.59 L287.56,193.58 L287.5,193.56 L287.44,193.55 L287.38,193.53 L287.32,193.51 L287.26,193.49 L287.2,193.47 L287.14,193.44 L287.08,193.42 L287.03,193.39 L286.9,193.33 L286.89,193.32 L286.7,193.24 L286.69,193.23 L286.5,193.15 L286.49,193.14 L286.3,193.06 L286.28,193.05 L286.1,192.97 L286.08,192.97 L285.89,192.89 L285.88,192.88 L285.69,192.81 L285.67,192.8 L285.48,192.73 L285.46,192.73 L285.27,192.65 L285.26,192.65 L285.06,192.58 L285.05,192.58 L284.85,192.51 L284.84,192.51 L284.64,192.44 L284.63,192.44 L284.43,192.38 L284.42,192.37 L284.22,192.31 L284.21,192.31 L284.01,192.25 L283.99,192.25 L283.8,192.2 L283.78,192.19 L283.58,192.14 L283.57,192.14 L283.37,192.09 L283.35,192.09 L283.15,192.04 L283.14,192.04 L282.94,191.99 L282.92,191.99 L282.72,191.95 L282.7,191.94 L282.5,191.91 L282.49,191.9 L282.29,191.87 L282.27,191.86 L282.07,191.83 L282.05,191.83 L281.85,191.8 L281.83,191.79 L281.63,191.76 L281.61,191.76 L281.41,191.74 L281.4,191.73 L281.19,191.71 L281.18,191.71 L280.97,191.69 L280.96,191.69 L280.75,191.67 L280.74,191.67 L280.53,191.65 L280.52,191.65 L280.31,191.63 L280.3,191.63 L280.09,191.62 L280.08,191.62 L279.87,191.61 L279.85,191.61 L279.65,191.61 L279.63,191.61 L279.43,191.6 L279.41,191.6 L279.21,191.6 L279.19,191.6 L278.99,191.6 L278.97,191.6 L278.77,191.61 L278.75,191.61 L278.55,191.61 L278.53,191.61 L278.32,191.62 L278.31,191.62 L278.1,191.63 L278.09,191.63 L277.88,191.65 L277.87,191.65 L277.66,191.67 L277.65,191.67 L277.44,191.69 L277.43,191.69 L277.22,191.71 L277.21,191.71 L277,191.73 L276.99,191.74 L276.79,191.76 L276.77,191.76 L276.57,191.79 L276.55,191.8 L276.35,191.83 L276.33,191.83 L276.13,191.86 L276.11,191.87 L275.91,191.9 L275.9,191.91 L275.7,191.94 L275.68,191.95 L275.48,191.99 L275.46,191.99 L275.26,192.04 L275.25,192.04 L275.05,192.09 L275.03,192.09 L274.83,192.14 L274.82,192.14 L274.62,192.19 L274.6,192.2 L274.41,192.25 L274.39,192.25 L274.19,192.31 L274.18,192.31 L273.98,192.37 L273.97,192.38 L273.77,192.44 L273.76,192.44 L273.56,192.51 L273.55,192.51 L273.35,192.58 L273.34,192.58 L273.14,192.65 L273.13,192.65 L272.94,192.73 L272.92,192.73 L272.73,192.8 L272.71,192.81 L272.52,192.88 L272.51,192.89 L272.32,192.97 L272.3,192.97 L272.12,193.05 L272.1,193.06 L271.91,193.14 L271.9,193.15 L271.71,193.23 L271.7,193.24 L271.51,193.32 L271.5,193.33 L271.37,193.39 L271.32,193.42 L271.26,193.44 L271.2,193.47 L271.14,193.49 L271.08,193.51 L271.02,193.53 L270.96,193.55 L270.9,193.56 L270.84,193.58 L270.77,193.59 L270.71,193.61 L270.65,193.62 L270.59,193.62 L270.52,193.63 L270.46,193.64 L270.4,193.64 L270.33,193.65 L270.27,193.65 L270.21,193.65 L270.14,193.64 L270.08,193.64 L270.01,193.64 L269.95,193.63 L269.89,193.62 L269.83,193.61 L269.76,193.6 L269.7,193.59 L269.64,193.57 L269.58,193.56 L269.52,193.54 L269.45,193.52 L269.39,193.5 L269.33,193.48 L269.28,193.46 L269.22,193.43 L269.16,193.41 L269.1,193.38 L269.04,193.35 L268.99,193.32 L268.93,193.29 L268.88,193.26 L268.83,193.22 L268.77,193.19 L268.72,193.15 L268.67,193.11 L268.62,193.07 L268.57,193.03 L268.52,192.99 L268.48,192.95 L268.43,192.9 L268.38,192.86 L268.34,192.81 L268.3,192.77 L268.26,192.72 L268.22,192.67 L268.18,192.62 L268.14,192.57 L268.1,192.52 L268.07,192.46 L268.03,192.41 L268,192.35 L267.97,192.3 L267.94,192.24 L267.91,192.19 L267.88,192.13 L267.86,192.07 L267.83,192.01 L267.81,191.95 L267.79,191.89 L267.76,191.8 L267.75,191.77 L267.71,191.68 L267.7,191.65 L267.67,191.56 L267.66,191.53 L267.62,191.45 L267.61,191.42 L267.57,191.33 L267.55,191.31 L267.51,191.22 L267.5,191.19 L267.46,191.11 L267.44,191.08 L267.4,191 L267.38,190.97 L267.33,190.89 L267.32,190.86 L267.27,190.79 L267.25,190.76 L267.2,190.68 L267.18,190.65 L267.13,190.58 L267.11,190.55 L267.06,190.47 L267.04,190.45 L266.98,190.38 L266.96,190.35 L266.9,190.28 L266.88,190.25 L266.82,190.18 L266.8,190.16 L266.74,190.09 L266.72,190.06 L266.65,190 L266.63,189.97 L266.57,189.91 L266.54,189.88 L266.48,189.82 L266.45,189.8 L266.39,189.73 L266.36,189.71 L266.29,189.65 L266.27,189.63 L266.2,189.57 L266.17,189.55 L266.1,189.49 L266.07,189.47 L266,189.41 L265.98,189.39 L265.9,189.34 L265.87,189.32 L265.8,189.27 L265.77,189.25 L265.69,189.2 L265.66,189.18 L265.59,189.13 L265.56,189.12 L265.48,189.07 L265.45,189.05 L265.37,189.01 L265.34,188.99 L265.26,188.95 L265.23,188.94 L265.14,188.9 L265.12,188.88 L265.03,188.84 L265,188.83 L264.92,188.79 L264.89,188.78 L264.8,188.75 L264.77,188.74 L264.68,188.7 L264.65,188.69 L264.56,188.66 L264.53,188.65 L264.45,188.62 L264.42,188.62 L264.33,188.59 L264.29,188.58 L264.2,188.56 L264.17,188.55 L264.08,188.53 L264.05,188.52 L263.96,188.5 L263.93,188.5 L263.84,188.48 L263.81,188.47 L263.71,188.46 L263.68,188.45 L263.59,188.44 L263.56,188.44 L263.47,188.43 L263.43,188.42 L263.34,188.42 L263.31,188.41 L263.22,188.41 L263.18,188.41 L263.09,188.4 L263.06,188.4 L262.97,188.4 L262.93,188.4 L262.84,188.4 L262.81,188.4 L262.72,188.41 L262.68,188.41 L262.59,188.41 L262.56,188.42 L262.47,188.42 L262.43,188.43 L262.34,188.44 L262.31,188.44 L262.22,188.45 L262.19,188.46 L262.09,188.47 L262.06,188.48 L261.97,188.5 L261.94,188.5 L261.85,188.52 L261.82,188.53 L261.73,188.55 L261.7,188.56 L261.61,188.58 L261.57,188.59 L261.48,188.62 L261.45,188.62 L261.37,188.65 L261.34,188.66 L261.25,188.69 L261.22,188.7 L261.13,188.74 L261.1,188.75 L261.01,188.78 L260.98,188.79 L260.9,188.83 L260.87,188.84 L260.78,188.88 L260.76,188.9 L260.67,188.94 L260.64,188.95 L260.56,188.99 L260.53,189.01 L260.45,189.05 L260.42,189.07 L260.34,189.12 L260.31,189.13 L260.24,189.18 L260.21,189.2 L260.13,189.25 L260.1,189.27 L260.03,189.32 L260,189.34 L259.92,189.39 L259.9,189.41 L259.83,189.47 L259.8,189.49 L259.73,189.55 L259.7,189.57 L259.63,189.63 L259.61,189.65 L259.54,189.71 L259.51,189.73 L259.45,189.8 L259.42,189.82 L259.36,189.88 L259.33,189.91 L259.27,189.97 L259.25,190 L259.18,190.06 L259.16,190.09 L259.1,190.16 L259.08,190.18 L259.02,190.25 L259,190.28 L258.94,190.35 L258.92,190.38 L258.86,190.45 L258.84,190.47 L258.79,190.55 L258.77,190.58 L258.72,190.65 L258.7,190.68 L258.65,190.76 L258.63,190.79 L258.58,190.86 L258.57,190.89 L258.52,190.97 L258.5,191 L258.46,191.08 L258.44,191.11 L258.4,191.19 L258.39,191.22 L258.35,191.31 L258.33,191.33 L258.29,191.42 L258.28,191.45 L258.24,191.53 L258.23,191.56 L258.2,191.65 L258.19,191.68 L258.15,191.77 L258.14,191.8 L258.11,191.89 L258.1,191.92 L258.07,192 L258.07,192.03 L258.04,192.12 L258.03,192.16 L258.01,192.25 L258,192.28 L257.98,192.37 L257.97,192.4 L257.95,192.49 L257.95,192.52 L257.93,192.61 L257.92,192.64 L257.91,192.74 L257.9,192.77 L257.89,192.86 L257.89,192.89 L257.88,192.98 L257.87,193.02 L257.87,193.11 L257.86,193.14 L257.86,193.23 L257.86,193.27 L257.85,193.36 L257.85,193.39 L257.85,193.48 L257.85,193.52 L257.85,193.61 L257.85,193.64 L257.86,193.73 L257.86,193.77 L257.86,193.86 L257.87,193.89 L257.87,193.98 L257.88,194.02 L257.89,194.11 L257.89,194.14 L257.9,194.23 L257.91,194.26 L257.92,194.36 L257.93,194.39 L257.95,194.48 L257.95,194.51 L257.97,194.6 L257.98,194.63 L258,194.72 L258.01,194.75 L258.03,194.84 L258.04,194.88 L258.07,194.97 L258.07,195 L258.1,195.08 L258.11,195.11 L258.14,195.2 L258.15,195.23 L258.19,195.32 L258.2,195.35 L258.23,195.44 L258.24,195.47 L258.28,195.55 L258.29,195.58 L258.33,195.67 L258.35,195.69 L258.39,195.78 L258.4,195.81 L258.44,195.89 L258.46,195.92 L258.5,196 L258.52,196.03 L258.57,196.11 L258.58,196.14 L258.63,196.21 L258.65,196.24 L258.7,196.32 L258.72,196.35 L258.77,196.42 L258.79,196.45 L258.84,196.53 L258.86,196.55 L258.92,196.62 L258.94,196.65 L259,196.72 L259.02,196.75 L259.08,196.82 L259.1,196.84 L259.16,196.91 L259.18,196.94 L259.25,197 L259.27,197.03 L259.33,197.09 L259.36,197.12 L259.42,197.18 L259.45,197.2 L259.51,197.27 L259.54,197.29 L259.61,197.35 L259.63,197.37 L259.7,197.43 L259.73,197.45 L259.8,197.51 L259.83,197.53 L259.9,197.59 L259.92,197.61 L260,197.66 L260.03,197.68 L260.1,197.73 L260.13,197.75 L260.21,197.8 L260.24,197.82 L260.31,197.87 L260.34,197.88 L260.42,197.93 L260.45,197.95 L260.53,197.99 L260.56,198.01 L260.64,198.05 L260.67,198.06 L260.76,198.1 L260.78,198.12 L260.87,198.16 L260.9,198.17 L260.98,198.21 L261.01,198.22 L261.1,198.25 L261.13,198.26 L261.22,198.3 L261.25,198.31 L261.34,198.34Z"/><path d="M361,121.8H407.4A6.9,6.9 0 0 1 407.4,135.6H361C358,135.6 357.2,133.1 354.2,133.1A4.4,4.4 0 0 1 354.2,124.3C357.2,124.3 358,121.8 361,121.8Z"/><path d="M474.5,121.8H428.6A6.9,6.9 0 0 0 428.6,135.6H474.5C477.5,135.6 479.5,133 482.5,133A4.3,4.3 0 0 0 482.5,124.4C479.5,124.4 477.5,121.8 474.5,121.8Z"/><path d="M361,283.5H407.4A6.9,6.9 0 0 1 407.4,297.3H361C358,297.3 357.2,294.8 354.2,294.8A4.4,4.4 0 0 1 354.2,286C357.2,286 358,283.5 361,283.5Z"/><path d="M474.5,283.5H428.6A6.9,6.9 0 0 0 428.6,297.3H474.5C477.5,297.3 479.5,294.7 482.5,294.7A4.3,4.3 0 0 0 482.5,286.1C479.5,286.1 477.5,283.5 474.5,283.5Z"/><path d="M455.22,236.66 L455.25,236.61 L455.44,236.24 L455.47,236.18 L455.67,235.82 L455.7,235.76 L455.89,235.39 L455.92,235.33 L456.11,234.96 L456.14,234.91 L456.33,234.53 L456.36,234.48 L456.54,234.1 L456.57,234.05 L456.75,233.67 L456.77,233.61 L456.95,233.24 L456.98,233.18 L457.15,232.8 L457.18,232.74 L457.35,232.36 L457.37,232.31 L457.54,231.92 L457.57,231.87 L457.73,231.48 L457.76,231.43 L457.92,231.04 L457.94,230.98 L458.1,230.6 L458.12,230.54 L458.28,230.15 L458.3,230.09 L458.45,229.7 L458.47,229.65 L458.62,229.26 L458.64,229.2 L458.79,228.81 L458.81,228.75 L458.95,228.35 L458.97,228.29 L459.11,227.9 L459.13,227.84 L459.26,227.45 L459.28,227.39 L459.41,226.99 L459.43,226.93 L459.56,226.53 L459.58,226.47 L459.7,226.08 L459.72,226.02 L459.84,225.62 L459.86,225.56 L459.98,225.16 L460,225.1 L460.11,224.7 L460.13,224.64 L460.24,224.23 L460.25,224.17 L460.36,223.77 L460.38,223.71 L460.48,223.3 L460.5,223.24 L460.6,222.84 L460.61,222.78 L460.71,222.37 L460.72,222.31 L460.82,221.9 L460.83,221.84 L460.92,221.44 L460.93,221.37 L461.02,220.97 L461.03,220.91 L461.12,220.5 L461.13,220.43 L461.21,220.03 L461.22,219.96 L461.29,219.55 L461.31,219.49 L461.38,219.08 L461.39,219.02 L461.46,218.61 L461.47,218.55 L461.53,218.13 L461.54,218.07 L461.61,217.66 L461.61,217.6 L461.67,217.19 L461.68,217.12 L461.74,216.71 L461.74,216.65 L461.8,216.23 L461.8,216.17 L461.85,215.76 L461.86,215.69 L461.9,215.28 L461.91,215.22 L461.95,214.8 L461.96,214.74 L461.99,214.32 L462,214.26 L462.03,213.85 L462.04,213.78 L462.07,213.37 L462.07,213.3 L462.1,212.89 L462.1,212.83 L462.12,212.41 L462.13,212.35 L462.15,211.93 L462.15,211.87 L462.17,211.45 L462.17,211.39 L462.18,210.97 L462.18,210.91 L462.19,210.49 L462.19,210.43 L462.2,210.01 L462.2,209.95 L462.2,209.53 L462.2,209.47 L462.2,209.05 L462.2,208.99 L462.19,208.57 L462.19,208.51 L462.18,208.09 L462.18,208.03 L462.17,207.61 L462.17,207.55 L462.15,207.13 L462.15,207.07 L462.13,206.65 L462.12,206.59 L462.1,206.17 L462.1,206.11 L462.07,205.7 L462.07,205.63 L462.04,205.22 L462.03,205.15 L462,204.74 L461.99,204.68 L461.96,204.26 L461.95,204.2 L461.91,203.78 L461.9,203.72 L461.86,203.31 L461.85,203.24 L461.8,202.83 L461.8,202.77 L461.74,202.35 L461.74,202.29 L461.68,201.88 L461.67,201.81 L461.61,201.4 L461.61,201.34 L461.54,200.93 L461.53,200.87 L461.47,200.45 L461.46,200.39 L461.39,199.98 L461.38,199.92 L461.31,199.51 L461.29,199.45 L461.22,199.04 L461.21,198.97 L461.13,198.57 L461.12,198.5 L461.03,198.09 L461.02,198.03 L460.93,197.63 L460.92,197.56 L460.83,197.16 L460.82,197.1 L460.72,196.69 L460.71,196.63 L460.61,196.22 L460.6,196.16 L460.5,195.76 L460.48,195.7 L460.38,195.29 L460.36,195.23 L460.25,194.83 L460.24,194.77 L460.13,194.36 L460.11,194.3 L460,193.9 L459.98,193.84 L459.86,193.44 L459.84,193.38 L459.72,192.98 L459.7,192.92 L459.58,192.53 L459.56,192.47 L459.43,192.07 L459.41,192.01 L459.28,191.61 L459.26,191.55 L459.13,191.16 L459.11,191.1 L458.97,190.71 L458.95,190.65 L458.81,190.25 L458.79,190.19 L458.64,189.8 L458.62,189.74 L458.47,189.35 L458.45,189.3 L458.3,188.91 L458.28,188.85 L458.12,188.46 L458.1,188.4 L457.94,188.02 L457.92,187.96 L457.76,187.57 L457.73,187.52 L457.57,187.13 L457.54,187.08 L457.37,186.69 L457.35,186.64 L457.18,186.26 L457.15,186.2 L456.98,185.82 L456.95,185.76 L456.77,185.39 L456.75,185.33 L456.57,184.95 L456.54,184.9 L456.36,184.52 L456.33,184.47 L456.14,184.09 L456.11,184.04 L455.92,183.67 L455.89,183.61 L455.7,183.24 L455.67,183.18 L455.47,182.82 L455.44,182.76 L455.25,182.39 L455.22,182.34 L455.01,181.98 L454.83,181.66 L454.63,181.36 L454.42,181.07 L454.19,180.78 L453.95,180.51 L453.69,180.25 L453.42,180.01 L453.15,179.77 L452.86,179.55 L452.55,179.35 L452.24,179.16 L451.93,178.99 L451.6,178.83 L451.26,178.69 L450.92,178.56 L450.58,178.45 L450.23,178.36 L449.87,178.29 L449.51,178.23 L449.15,178.19 L448.79,178.17 L448.42,178.17 L448.06,178.18 L447.7,178.22 L447.34,178.27 L446.98,178.34 L446.63,178.42 L446.28,178.52 L445.94,178.64 L445.6,178.78 L445.27,178.93 L444.95,179.1 L444.64,179.28 L444.33,179.48 L444.04,179.7 L443.76,179.93 L443.49,180.17 L443.23,180.42 L442.98,180.69 L442.75,180.97 L442.53,181.26 L442.33,181.56 L442.14,181.87 L441.96,182.19 L441.8,182.51 L441.66,182.85 L441.54,183.19 L441.43,183.54 L441.34,183.89 L441.26,184.24 L441.21,184.6 L441.17,184.96 L441.15,185.33 L441.15,185.69 L441.16,186.05 L441.19,186.41 L441.24,186.77 L441.31,187.13 L441.4,187.48 L441.5,187.83 L441.62,188.18 L441.75,188.51 L441.91,188.84 L442.08,189.16 L442.26,189.5 L442.43,189.81 L442.6,190.12 L442.76,190.44 L442.92,190.75 L443.08,191.07 L443.24,191.38 L443.39,191.7 L443.54,192.02 L443.69,192.35 L443.83,192.67 L443.98,192.99 L444.11,193.32 L444.25,193.64 L444.38,193.97 L444.52,194.3 L444.64,194.63 L444.77,194.96 L444.89,195.29 L445.01,195.62 L445.13,195.96 L445.24,196.29 L445.35,196.63 L445.46,196.97 L445.57,197.3 L445.67,197.64 L445.77,197.98 L445.87,198.32 L445.96,198.66 L446.05,199 L446.14,199.35 L446.22,199.69 L446.31,200.03 L446.39,200.38 L446.46,200.72 L446.53,201.07 L446.61,201.42 L446.67,201.76 L446.74,202.11 L446.8,202.46 L446.86,202.81 L446.91,203.16 L446.97,203.51 L447.01,203.86 L447.06,204.21 L447.1,204.56 L447.15,204.91 L447.18,205.26 L447.22,205.61 L447.25,205.97 L447.28,206.32 L447.3,206.67 L447.33,207.03 L447.35,207.38 L447.36,207.73 L447.38,208.09 L447.39,208.44 L447.39,208.79 L447.4,209.15 L447.4,209.5 L447.4,209.85 L447.39,210.21 L447.39,210.56 L447.38,210.91 L447.36,211.27 L447.35,211.62 L447.33,211.97 L447.3,212.33 L447.28,212.68 L447.25,213.03 L447.22,213.39 L447.18,213.74 L447.15,214.09 L447.1,214.44 L447.06,214.79 L447.01,215.14 L446.97,215.49 L446.91,215.84 L446.86,216.19 L446.8,216.54 L446.74,216.89 L446.67,217.24 L446.61,217.58 L446.53,217.93 L446.46,218.28 L446.39,218.62 L446.31,218.97 L446.22,219.31 L446.14,219.65 L446.05,220 L445.96,220.34 L445.87,220.68 L445.77,221.02 L445.67,221.36 L445.57,221.7 L445.46,222.03 L445.35,222.37 L445.24,222.71 L445.13,223.04 L445.01,223.38 L444.89,223.71 L444.77,224.04 L444.64,224.37 L444.52,224.7 L444.38,225.03 L444.25,225.36 L444.11,225.68 L443.98,226.01 L443.83,226.33 L443.69,226.65 L443.54,226.98 L443.39,227.3 L443.24,227.62 L443.08,227.93 L442.92,228.25 L442.76,228.56 L442.6,228.88 L442.43,229.19 L442.26,229.5 L442.08,229.84 L441.91,230.16 L441.75,230.49 L441.62,230.82 L441.5,231.17 L441.4,231.52 L441.31,231.87 L441.24,232.23 L441.19,232.59 L441.16,232.95 L441.15,233.31 L441.15,233.67 L441.17,234.04 L441.21,234.4 L441.26,234.76 L441.34,235.11 L441.43,235.46 L441.54,235.81 L441.66,236.15 L441.8,236.49 L441.96,236.81 L442.14,237.13 L442.33,237.44 L442.53,237.74 L442.75,238.03 L442.98,238.31 L443.23,238.58 L443.49,238.83 L443.76,239.07 L444.04,239.3 L444.33,239.52 L444.64,239.72 L444.95,239.9 L445.27,240.07 L445.6,240.22 L445.94,240.36 L446.28,240.48 L446.63,240.58 L446.98,240.66 L447.34,240.73 L447.7,240.78 L448.06,240.82 L448.42,240.83 L448.79,240.83 L449.15,240.81 L449.51,240.77 L449.87,240.71 L450.23,240.64 L450.58,240.55 L450.92,240.44 L451.26,240.31 L451.6,240.17 L451.93,240.01 L452.24,239.84 L452.55,239.65 L452.86,239.45 L453.15,239.23 L453.42,238.99 L453.69,238.75 L453.95,238.49 L454.19,238.22 L454.42,237.93 L454.63,237.64 L454.83,237.34 L455.01,237.02Z"/><path d="M363.5,174.94 L363.68,176.58 L364.24,178.26 L365.07,179.69 L366.26,181 L367.74,182.05 L369.26,182.7 L370.99,183.05 L372.65,183.03 L373.79,182.81 L374.79,182.48 L375.88,181.95 L376.84,181.29 L378,180.17 L379.63,177.93 L380.77,176.64 L382.36,175.21 L384.24,173.9 L386.9,172.41 L389.52,171.19 L392.43,170.07 L395.36,169.19 L397.36,168.71 L399.39,168.34 L401.43,168.07 L403.49,167.9 L405.55,167.83 L407.61,167.87 L409.66,168 L411.95,168.27 L415.35,168.92 L418.53,169.79 L420.7,170.55 L422.77,171.4 L427.86,173.94 L429.44,174.34 L431.03,174.38 L432.46,174.12 L433.81,173.59 L435.07,172.78 L436.11,171.77 L437,170.45 L437.54,169.1 L437.82,167.63 L437.8,166.18 L437.46,164.63 L436.84,163.27 L435.9,161.99 L434.78,160.99 L432.28,159.55 L429.27,158.07 L426.68,156.97 L423.55,155.84 L420.86,155.03 L417.62,154.24 L414.85,153.72 L411.55,153.29 L408.74,153.08 L405.41,153.01 L402.6,153.11 L399.28,153.4 L394.87,154.1 L393.25,154.45 L392.72,154.7 L392.19,155.3 L391.55,156.96 L390.76,158.48 L390.01,159.61 L389.13,160.67 L387.9,161.88 L386.8,162.74 L385.35,163.63 L384.09,164.23 L382.79,164.69 L381.48,165.02 L380.44,165.19 L379.06,165.29 L377.69,165.25 L376,165.02 L374.67,164.69 L373.04,164.15 L372.46,164.17 L371.92,164.39 L370.95,165.12 L369.2,166.64 L366.57,168.46 L365.29,169.74 L364.51,170.92 L363.94,172.21 L363.6,173.58Z"/><path d="M363.5,244.06 L363.68,242.42 L364.24,240.74 L365.07,239.31 L366.26,238 L367.74,236.95 L369.26,236.3 L370.99,235.95 L372.65,235.97 L373.79,236.19 L374.79,236.52 L375.88,237.05 L376.84,237.71 L378,238.83 L379.63,241.07 L380.77,242.36 L382.36,243.79 L384.24,245.1 L386.9,246.59 L389.52,247.81 L392.43,248.93 L395.36,249.81 L397.36,250.29 L399.39,250.66 L401.43,250.93 L403.49,251.1 L405.55,251.17 L407.61,251.13 L409.66,251 L411.95,250.73 L415.35,250.08 L418.53,249.21 L420.7,248.45 L422.77,247.6 L427.86,245.06 L429.44,244.66 L431.03,244.62 L432.46,244.88 L433.81,245.41 L435.07,246.22 L436.11,247.23 L437,248.55 L437.54,249.9 L437.82,251.37 L437.8,252.82 L437.46,254.37 L436.84,255.73 L435.9,257.01 L434.78,258.01 L432.28,259.45 L429.27,260.93 L426.68,262.03 L423.55,263.16 L420.86,263.97 L417.62,264.76 L414.85,265.28 L411.55,265.71 L408.74,265.92 L405.41,265.99 L402.6,265.89 L399.28,265.6 L394.87,264.9 L393.25,264.55 L392.72,264.3 L392.19,263.7 L391.55,262.04 L390.76,260.52 L390.01,259.39 L389.13,258.33 L387.9,257.12 L386.8,256.26 L385.35,255.37 L384.09,254.77 L382.79,254.31 L381.48,253.98 L380.44,253.81 L379.06,253.71 L377.69,253.75 L376,253.98 L374.67,254.31 L373.04,254.85 L372.46,254.83 L371.92,254.61 L370.95,253.88 L369.2,252.36 L366.57,250.54 L365.29,249.26 L364.51,248.08 L363.94,246.79 L363.6,245.42Z"/><path d="M509.2,260.5V159H523.3Q524.1,159 524.1,158.2V154Q524.1,153 525,152.4V143.3A5.1,5.1 0 0 1 535.2,143.3V149.4A2.6,2.6 0 0 0 537.8,152H550.8V260.5Z"/>
</g>
<g fill="none" stroke-width="1.45" stroke-linecap="butt">
<path stroke="#6cd8d2" d="M152.5,132.6H239.5M152.5,286.9H239.5M159.5,132.6V286.9M246.2,139V398M351.6,213.8V398M246.2,392H351.6"/>
<path stroke="#5cd64c" d="M361.3,67.5H600M361.2,351.5H602.3M593,67.5V351.5M296,128.7H545.6M296,290.4H545.6M306.9,128.7V290.4M354.1,74.3V398M545.6,74.3V398M354.1,392.3H545.6"/>
<path stroke="#d040d0" d="M321,153.3H490.4M321,265.7H490.4M328,153.3V265.7M378.4,153.3V282.4M490.4,153.3V282M378.4,278.1H490.4"/>
</g>
<path fill="#6cd8d2" d="M159.5,132.6L161.65,143.2L157.35,143.2ZM159.5,286.9L157.35,276.3L161.65,276.3ZM246.2,392L256.8,389.85L256.8,394.15ZM351.6,392L341,394.15L341,389.85Z"/>
<path fill="#5cd64c" d="M593,67.5L595.15,78.1L590.85,78.1ZM593,351.5L590.85,340.9L595.15,340.9ZM306.9,128.7L309.05,139.3L304.75,139.3ZM306.9,290.4L304.75,279.8L309.05,279.8ZM354.1,392.3L364.7,390.15L364.7,394.45ZM545.6,392.3L535,394.45L535,390.15Z"/>
<path fill="#d040d0" d="M328,153.3L330.15,163.9L325.85,163.9ZM328,265.7L325.85,255.1L330.15,255.1ZM378.4,278.1L389,275.95L389,280.25ZM490.4,278.1L479.8,280.25L479.8,275.95Z"/>
<path d="M338.4,499.9H404" stroke="#9a9a9a" stroke-width="3.2" fill="none"/>
<path d="M404,500.6H500.4" stroke="#b4b4b4" stroke-width="1.9" fill="none"/>
<g fill="none" stroke="#eeeeee" stroke-width="1.4" stroke-linejoin="round">
<path d="M188,483.4H558.4A2,2 0 0 1 560.4,485.4V487.5A2,2 0 0 1 558.4,489.5H462.4M282.6,489.5H188A2,2 0 0 1 186,487.5V485.4A2,2 0 0 1 188,483.4M251.2,483.4V489.5M494.5,483.4V489.5M282.6,483.4V489.5L305.8,511.5Q308.4,514 308.4,517.6V547Q308.4,550 310.4,552L321.4,563.6Q323.8,566 327,566H418.2Q421.4,566 423.6,563.6L434.6,552.6Q436.8,550.6 436.8,547.6V517.6Q436.8,514 439.4,511.5L462.4,489.5V483.4M320,489.5H426M318.7,483.4C318.7,484.1 318.43,486.27 318.7,487.6C318.97,488.93 319.45,490.33 320.3,491.4C321.15,492.47 322.82,493.18 323.8,494C324.78,494.82 325.9,495.43 326.2,496.3C326.5,497.17 325.58,498.12 325.6,499.2C325.62,500.28 325.57,501.68 326.3,502.8C327.03,503.92 328.67,505.83 330,505.9C331.33,505.97 333.33,504.28 334.3,503.2C335.27,502.12 335.58,500.53 335.8,499.4C336.02,498.27 335.37,497.3 335.6,496.4C335.83,495.5 336.43,494.47 337.2,494C337.97,493.53 339.3,493.23 340.2,493.6C341.1,493.97 342.08,495.13 342.6,496.2C343.12,497.27 343.32,498.77 343.3,500C343.28,501.23 343.13,502.28 342.5,503.6C341.87,504.92 340.55,506.53 339.5,507.9C338.45,509.27 336.93,510.52 336.2,511.8C335.47,513.08 335.28,514.97 335.1,515.6V538.8L343.4,549.6M 427.3,483.4 C 427.3,484.1 427.57,486.27 427.3,487.6 C 427.03,488.93 426.55,490.33 425.7,491.4 C 424.85,492.47 423.18,493.18 422.2,494 C 421.22,494.82 420.1,495.43 419.8,496.3 C 419.5,497.17 420.42,498.12 420.4,499.2 C 420.38,500.28 420.43,501.68 419.7,502.8 C 418.97,503.92 417.33,505.83 416,505.9 C 414.67,505.97 412.67,504.28 411.7,503.2 C 410.73,502.12 410.42,500.53 410.2,499.4 C 409.98,498.27 410.63,497.3 410.4,496.4 C 410.17,495.5 409.57,494.47 408.8,494 C 408.03,493.53 406.7,493.23 405.8,493.6 C 404.9,493.97 403.92,495.13 403.4,496.2 C 402.88,497.27 402.68,498.77 402.7,500 C 402.72,501.23 402.87,502.28 403.5,503.6 C 404.13,504.92 405.45,506.53 406.5,507.9 C 407.55,509.27 409.07,510.52 409.8,511.8 C 410.53,513.08 410.72,514.97 410.9,515.6 V 538.8 L 402.6,549.6M343.4,549.6Q346,555 350,555H396Q400,555 402.6,549.6M338,551.8H406.8M330,507V634.8M414.6,507V634.8M252.8,499.1H338.4M252.8,553.3H325M419.6,551.6H500.4M260.8,499.1V553.3M491.9,500.7V551.6M330,626.3H414.6"/>
<circle cx="330.3" cy="553.2" r="5"/><circle cx="414.5" cy="553.2" r="5"/>
</g>
<path fill="#eeeeee" d="M260.8,499.1L263.7,513.1L257.9,513.1ZM260.8,553.3L257.9,539.3L263.7,539.3ZM491.9,500.7L494.8,514.7L489,514.7ZM491.9,551.6L489,537.6L494.8,537.6ZM330,626.3L345,623.1L345,629.5ZM414.6,626.3L399.6,629.5L399.6,623.1Z"/>
<text x="151.9" y="212.3" fill="#6cd8d2" stroke="#6cd8d2" class="dt" font-size="11" text-anchor="middle" dominant-baseline="central" transform="rotate(-90 151.9 212.3)">46.80</text><text x="315.8" y="205.3" fill="#5cd64c" stroke="#5cd64c" class="dt" font-size="11" text-anchor="middle" dominant-baseline="central" transform="rotate(-90 315.8 205.3)">49.00</text><text x="337.4" y="205.3" fill="#d040d0" stroke="#d040d0" class="dt" font-size="11" text-anchor="middle" dominant-baseline="central" transform="rotate(-90 337.4 205.3)">34.00</text><text x="602" y="205.3" fill="#5cd64c" stroke="#5cd64c" class="dt" font-size="11" text-anchor="middle" dominant-baseline="central" transform="rotate(-90 602 205.3)">86.00</text><text x="292" y="384" fill="#6cd8d2" stroke="#6cd8d2" class="dt" font-size="11" text-anchor="middle" dominant-baseline="central">31.92</text><text x="454" y="384" fill="#5cd64c" stroke="#5cd64c" class="dt" font-size="11" text-anchor="middle" dominant-baseline="central">58.00</text><text x="432.8" y="272" fill="#d040d0" stroke="#d040d0" class="dt" font-size="11" text-anchor="middle" dominant-baseline="central">34.00</text><text x="251.3" y="525.5" fill="#eeeeee" stroke="#eeeeee" class="dt" font-size="11.5" text-anchor="middle" dominant-baseline="central" transform="rotate(-90 251.3 525.5)">13.50</text><text x="482.4" y="525.5" fill="#eeeeee" stroke="#eeeeee" class="dt" font-size="11.5" text-anchor="middle" dominant-baseline="central" transform="rotate(-90 482.4 525.5)">12.50</text><text x="372.3" y="616.6" fill="#eeeeee" stroke="#eeeeee" class="dt" font-size="11.5" text-anchor="middle" dominant-baseline="central">21.00</text>
<text x="536" y="677.3" fill="#e8e8e8" font-size="13.5">Mounting plate size</text>
<g fill="#f0f0f0" stroke="#f0f0f0" stroke-width="0.45" font-size="17.2"><text x="579.6" y="732.4">Unit</text><text x="611" y="732.4">:</text><text x="626.6" y="732.4">mm</text></g>
</svg>
</body></html>
